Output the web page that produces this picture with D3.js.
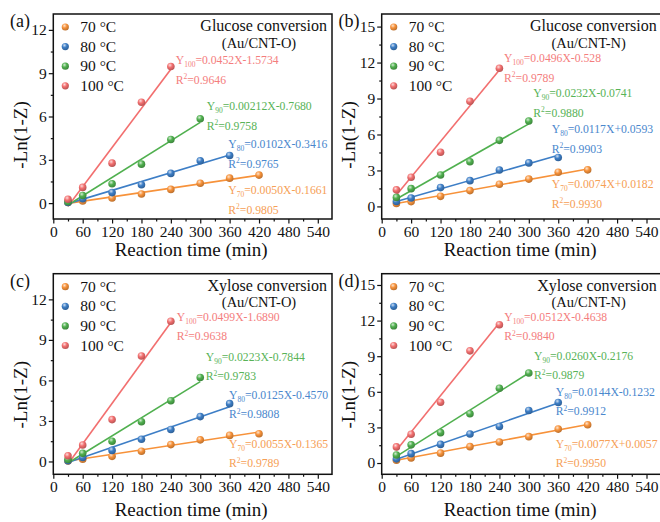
<!DOCTYPE html>
<html>
<head>
<meta charset="utf-8">
<script src="https://cdn.jsdelivr.net/npm/d3@7"></script>
<style>
  body { margin: 0; background: #fff; }
  text { font-family: "Liberation Serif", "Times New Roman", serif; }
</style>
</head>
<body>
<svg id="chart" width="660" height="522"></svg>
<script>
// sampling times (min) and temperatures
var times = [30, 60, 120, 180, 240, 300, 360, 420];
var tempLabels = ["70 °C", "80 °C", "90 °C", "100 °C"];
var tempSubs = ["70", "80", "90", "100"];

// -Ln(1-Z) values, one array per temperature
var a70 = [0.05, 0.15, 0.35, 0.63, 0.95, 1.38, 1.73, 1.94];
var a80 = [0.05, 0.30, 0.73, 1.27, 2.06, 2.93, 3.30];
var a90 = [0.10, 0.53, 1.34, 2.70, 4.41, 5.84];
var a100 = [0.27, 1.09, 2.77, 6.99, 9.46];

var b70 = [0.25, 0.40, 0.84, 1.32, 1.85, 2.28, 2.85, 3.05];
var b80 = [0.42, 0.70, 1.57, 2.15, 3.04, 3.63, 4.08];
var b90 = [0.75, 1.48, 2.62, 3.72, 5.51, 7.12];
var b100 = [1.38, 2.43, 4.52, 8.77, 11.52];

var c70 = [0.03, 0.16, 0.38, 0.76, 1.25, 1.60, 1.93, 2.05];
var c80 = [0.05, 0.30, 0.82, 1.64, 2.37, 3.32, 4.28];
var c90 = [0.15, 0.60, 1.50, 2.94, 4.50, 6.22];
var c100 = [0.42, 1.22, 3.10, 7.81, 10.38];

var d70 = [0.23, 0.43, 0.83, 1.38, 1.77, 2.22, 2.86, 3.22];
var d80 = [0.35, 0.79, 1.57, 2.44, 3.08, 4.43, 5.10];
var d90 = [0.67, 1.53, 2.56, 4.15, 6.30, 7.58];
var d100 = [1.36, 2.42, 5.12, 9.45, 11.65];

// linear fits (slope, intercept) used for the lines
var aSlope = [0.0050, 0.0102, 0.0212, 0.0452], aInter = [-0.1661, -0.3416, -0.7680, -1.5734];
var bSlope = [0.0074, 0.0117, 0.0232, 0.0496], bInter = [0.0182, 0.0593, -0.0741, -0.528];
var cSlope = [0.0055, 0.0125, 0.0223, 0.0499], cInter = [-0.1365, -0.4570, -0.7844, -1.6890];
var dSlope = [0.0077, 0.0144, 0.0260, 0.0512], dInter = [0.0057, -0.1232, -0.2176, -0.4638];

// equation texts as printed
var aEq = ["=0.0050X-0.1661", "=0.0102X-0.3416", "=0.00212X-0.7680", "=0.0452X-1.5734"];
var bEq = ["=0.0074X+0.0182", "=0.0117X+0.0593", "=0.0232X-0.0741", "=0.0496X-0.528"];
var cEq = ["=0.0055X-0.1365", "=0.0125X-0.4570", "=0.0223X-0.7844", "=0.0499X-1.6890"];
var dEq = ["=0.0077X+0.0057", "=0.0144X-0.1232", "=0.0260X-0.2176", "=0.0512X-0.4638"];
var aR2 = ["=0.9805", "=0.9765", "=0.9758", "=0.9646"];
var bR2 = ["=0.9930", "=0.9903", "=0.9880", "=0.9789"];
var cR2 = ["=0.9789", "=0.9808", "=0.9783", "=0.9638"];
var dR2 = ["=0.9950", "=0.9912", "=0.9879", "=0.9840"];

var xTicks = [0, 60, 120, 180, 240, 300, 360, 420, 480, 540];

var colors = ["#f7923a", "#3d7ec6", "#50b04f", "#f26f6f"];
var labelColors = ["#f6a056", "#4a87cd", "#58b357", "#f47d7d"];

var panels = [
  { tag: "(a)", title: "Glucose conversion", sub: "(Au/CNT-O)",
    left: 53.3, top: 14, width: 278.7, height: 205, xMax: 569, yDomain: [-1.1, 13.1], yMax: 12, xTitleDy: 36.5,
    series: [a70, a80, a90, a100], slope: aSlope, inter: aInter, eq: aEq, r2: aR2,
    eqPos: [[175, 180], [175, 134], [153.4, 96], [122.4, 50]] },
  { tag: "(b)", title: "Glucose conversion", sub: "(Au/CNT-N)",
    left: 381.7, top: 14, width: 280, height: 205, xMax: 571, yDomain: [-1.05, 16.05], yMax: 15, xTitleDy: 36.5,
    series: [b70, b80, b90, b100], slope: bSlope, inter: bInter, eq: bEq, r2: bR2,
    eqPos: [[170, 174], [170, 119], [151.6, 83], [122.3, 48]] },
  { tag: "(c)", title: "Xylose conversion", sub: "(Au/CNT-O)",
    left: 53.3, top: 273.7, width: 278.7, height: 200.6, xMax: 569, yDomain: [-0.95, 13.9], yMax: 12, xTitleDy: 42,
    series: [c70, c80, c90, c100], slope: cSlope, inter: cInter, eq: cEq, r2: cR2,
    eqPos: [[175.7, 174], [175.7, 125], [152.4, 87], [123.4, 47]] },
  { tag: "(d)", title: "Xylose conversion", sub: "(Au/CNT-N)",
    left: 381.7, top: 273.7, width: 280, height: 200.6, xMax: 571, yDomain: [-0.95, 15.95], yMax: 15, xTitleDy: 42,
    series: [d70, d80, d90, d100], slope: dSlope, inter: dInter, eq: dEq, r2: dR2,
    eqPos: [[174, 174], [174, 122], [152.3, 86], [122.6, 47]] }
];

var svg = d3.select("#chart");

// shaded sphere gradients for the markers
var defs = svg.append("defs");
colors.forEach(function(c, i) {
  var grad = defs.append("radialGradient")
    .attr("id", "ball" + i)
    .attr("cx", "38%").attr("cy", "32%").attr("r", "70%");
  grad.append("stop").attr("offset", "0%").attr("stop-color", d3.interpolateRgb(c, "#fff")(0.75));
  grad.append("stop").attr("offset", "45%").attr("stop-color", c);
  grad.append("stop").attr("offset", "100%").attr("stop-color", d3.interpolateRgb(c, "#000")(0.25));
});

panels.forEach(function(p) {
  var g = svg.append("g").attr("transform", `translate(${p.left}, ${p.top})`);

  var x = d3.scaleLinear().domain([0, p.xMax]).range([0, p.width]);
  var y = d3.scaleLinear().domain(p.yDomain).range([p.height, 0]);

  var yTicks = d3.range(0, p.yMax + 0.1, 3);
  var yMinor = d3.range(1.5, p.yMax, 3);
  var xMinor = d3.range(30, p.xMax, 60);

  // minor ticks
  g.append("g")
    .attr("transform", `translate(0, ${p.height})`)
    .call(d3.axisBottom(x).tickValues(xMinor).tickSize(2.5).tickSizeOuter(0).tickFormat(""))
    .call(a => a.select(".domain").remove());
  g.append("g")
    .call(d3.axisLeft(y).tickValues(yMinor).tickSize(2.5).tickSizeOuter(0).tickFormat(""))
    .call(a => a.select(".domain").remove());

  // major ticks
  var xAxis = g.append("g")
    .attr("transform", `translate(0, ${p.height})`)
    .call(d3.axisBottom(x).tickValues(xTicks).tickSize(4.5).tickSizeOuter(0).tickPadding(2));
  var yAxis = g.append("g")
    .call(d3.axisLeft(y).tickValues(yTicks).tickSize(4.5).tickSizeOuter(0).tickPadding(2));
  [xAxis, yAxis].forEach(function(a) {
    a.select(".domain").remove();
    a.attr("font-family", '"Liberation Serif", serif');
    a.selectAll("text").attr("font-size", 15.5).attr("fill", "#111");
  });
  g.selectAll(".tick line").attr("stroke", "#111").attr("stroke-width", 1.2);

  // frame
  g.append("rect")
    .attr("width", p.width).attr("height", p.height)
    .attr("fill", "none").attr("stroke", "#111").attr("stroke-width", 1.5);

  // fit lines
  p.series.forEach(function(vals, i) {
    var tEnd = times[vals.length - 1];
    g.append("line")
      .attr("x1", x(30)).attr("y1", y(p.slope[i] * 30 + p.inter[i]))
      .attr("x2", x(tEnd)).attr("y2", y(p.slope[i] * tEnd + p.inter[i]))
      .attr("stroke", colors[i]).attr("stroke-width", 1.6);
  });

  // points
  p.series.forEach(function(vals, i) {
    g.selectAll(null)
      .data(vals)
      .enter()
      .append("circle")
      .attr("cx", (d, j) => x(times[j]))
      .attr("cy", d => y(d))
      .attr("r", 3.8)
      .attr("fill", `url(#ball${i})`);
  });

  // equation labels
  p.series.forEach(function(vals, i) {
    var pos = p.eqPos[i];
    var t1 = g.append("text").attr("x", pos[0]).attr("y", pos[1])
      .attr("font-size", 11.7).attr("fill", labelColors[i]);
    t1.append("tspan").text("Y");
    t1.append("tspan").attr("font-size", 7.5).attr("dy", 3).text(tempSubs[i]);
    t1.append("tspan").attr("dy", -3).text(p.eq[i]);

    var t2 = g.append("text").attr("x", pos[0]).attr("y", pos[1] + 19.5)
      .attr("font-size", 11.7).attr("fill", labelColors[i]);
    t2.append("tspan").text("R");
    t2.append("tspan").attr("font-size", 7.5).attr("dy", -4.5).text("2");
    t2.append("tspan").attr("dy", 4.5).text(p.r2[i]);
  });

  // legend
  tempLabels.forEach(function(lab, i) {
    var ly = 13 + i * 19.6;
    g.append("circle").attr("cx", 12).attr("cy", ly).attr("r", 3.6)
      .attr("fill", `url(#ball${i})`);
    g.append("text").attr("x", 27).attr("y", ly + 5.2)
      .attr("font-size", 15.5).attr("fill", "#111").text(lab);
  });

  // title
  g.append("text")
    .attr("x", p.width - 5).attr("y", 17)
    .attr("text-anchor", "end").attr("font-size", 16).attr("fill", "#111")
    .text(p.title);
  g.append("text")
    .attr("x", p.width - 73).attr("y", 33.5)
    .attr("text-anchor", "middle").attr("font-size", 14.5).attr("fill", "#111")
    .text(p.sub);

  // panel tag
  g.append("text")
    .attr("x", -43.3).attr("y", 13)
    .attr("font-size", 18).attr("fill", "#111")
    .text(p.tag);

  // axis titles
  g.append("text")
    .attr("transform", `translate(-26.5, 121) rotate(-90)`)
    .attr("text-anchor", "middle").attr("font-size", 19).attr("fill", "#111")
    .text("-Ln(1-Z)");
  g.append("text")
    .attr("x", p.width / 2 - 1.5).attr("y", p.height + p.xTitleDy)
    .attr("text-anchor", "middle").attr("font-size", 19).attr("fill", "#111")
    .text("Reaction time (min)");
});
</script>
</body>
</html>
